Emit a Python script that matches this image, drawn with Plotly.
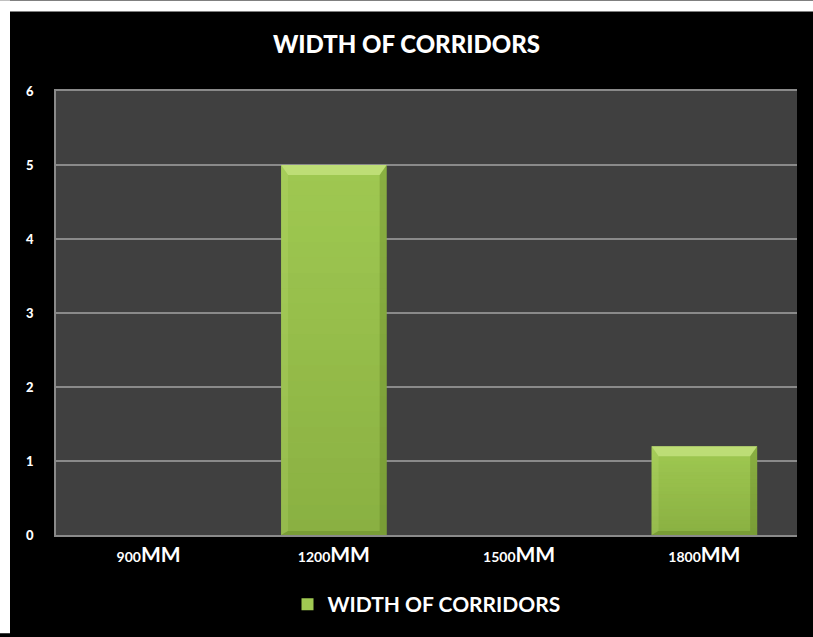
import plotly.graph_objects as go

# Corridor width categories and counts
categories = ["900", "1200", "1500", "1800"]
unit = "MM"
counts = [0, 5, 0, 1.2]
y_ticks = [0, 1, 2, 3, 4, 5, 6]
series_name = "WIDTH OF CORRIDORS"

W, H = 813, 637
L, R, T, B = 56, 16, 91, 99
pw, ph = W - L - R, H - T - B
BARGAP = 0.43
Y_MAX = 6

tick_text = [f"<b>{c}<span style='font-size:21px'>{unit}</span></b>" for c in categories]

fig = go.Figure()
fig.add_trace(go.Bar(
    x=list(range(len(categories))),
    y=counts,
    name=f"<b>{series_name}</b>",
    marker=dict(color="#A0C952", line=dict(width=0)),
    showlegend=True,
))


def poly(pts):
    return "M " + " L ".join(f"{px},{py}" for px, py in pts) + " Z"


# Shading on each bar, derived from the bar's value and width
half = (1 - BARGAP) / 2
bx = 7 / (pw / len(categories))           # side bevel depth in category units
by = 10 / ph * Y_MAX                      # top bevel depth in value units
n_bands = 24
for i, v in enumerate(counts):
    if v <= 0:
        continue
    x0, x1 = i - half, i + half
    d = min(by, v / 3)
    # vertical darkening toward the base
    for k in range(n_bands):
        ya, yb = v * k / n_bands, v * (k + 1) / n_bands
        a = 0.22 * (1 - (k + 0.5) / n_bands)
        fig.add_shape(type="rect", xref="x", yref="y", x0=x0, x1=x1,
                      y0=ya, y1=yb, fillcolor=f"rgba(60,90,10,{a:.3f})",
                      line=dict(width=0), layer="above")
    faces = [
        ([(x0, v), (x1, v), (x1 - bx, v - d), (x0 + bx, v - d)], "rgba(215,240,150,0.55)"),
        ([(x0, v), (x0 + bx, v - d), (x0 + bx, d * 0.4), (x0, 0)], "rgba(190,225,120,0.22)"),
        ([(x1, v), (x1 - bx, v - d), (x1 - bx, d * 0.4), (x1, 0)], "rgba(70,100,20,0.25)"),
        ([(x0, 0), (x0 + bx, d * 0.4), (x1 - bx, d * 0.4), (x1, 0)], "rgba(70,100,20,0.25)"),
    ]
    for pts, col in faces:
        fig.add_shape(type="path", xref="x", yref="y", path=poly(pts),
                      fillcolor=col, line=dict(width=0), layer="above")

# Thin white strips along the top and left edges of the black page
white = dict(type="rect", xref="paper", yref="paper", layer="above",
             fillcolor="white", line=dict(width=0))
fig.add_shape(**white, x0=-L / pw, x1=(W - L) / pw,
              y0=(H - B - 11) / ph, y1=(H - B) / ph)
fig.add_shape(**white, x0=-L / pw, x1=(10 - L) / pw,
              y0=-B / ph, y1=(H - B) / ph)

fig.update_layout(
    width=W, height=H,
    margin=dict(l=L, r=R, t=T, b=B),
    paper_bgcolor="black",
    plot_bgcolor="#404040",
    bargap=BARGAP,
    font=dict(family="Lato", color="white"),
    title=dict(
        text="WIDTH OF CORRIDORS",
        x=0.5, xanchor="center", y=1 - 45 / H, yanchor="middle",
        font=dict(size=24, color="white", family="Lato", weight=900),
    ),
    xaxis=dict(
        tickmode="array", tickvals=list(range(len(categories))), ticktext=tick_text,
        range=[-0.5, len(categories) - 0.5],
        tickfont=dict(size=14, color="white", family="Lato"),
        showline=True, linecolor="#8A8A8A", linewidth=2,
        mirror=True, showgrid=False, ticks="", ticklabelstandoff=8,
    ),
    yaxis=dict(
        range=[0, Y_MAX], tickvals=y_ticks,
        tickfont=dict(size=13, color="white", family="Lato", weight=900),
        showgrid=True, gridcolor="#8A8A8A", gridwidth=1.5,
        showline=True, linecolor="#8A8A8A", linewidth=1.5,
        zeroline=False, ticks="", ticklabelstandoff=18,
    ),
    legend=dict(
        orientation="h", x=0.5, xanchor="center",
        y=-(608 - (H - B)) / ph, yanchor="middle",
        font=dict(size=21, color="white", family="Lato", weight=900),
        bgcolor="rgba(0,0,0,0)", itemwidth=30,
    ),
)

fig.write_html("out.html")
